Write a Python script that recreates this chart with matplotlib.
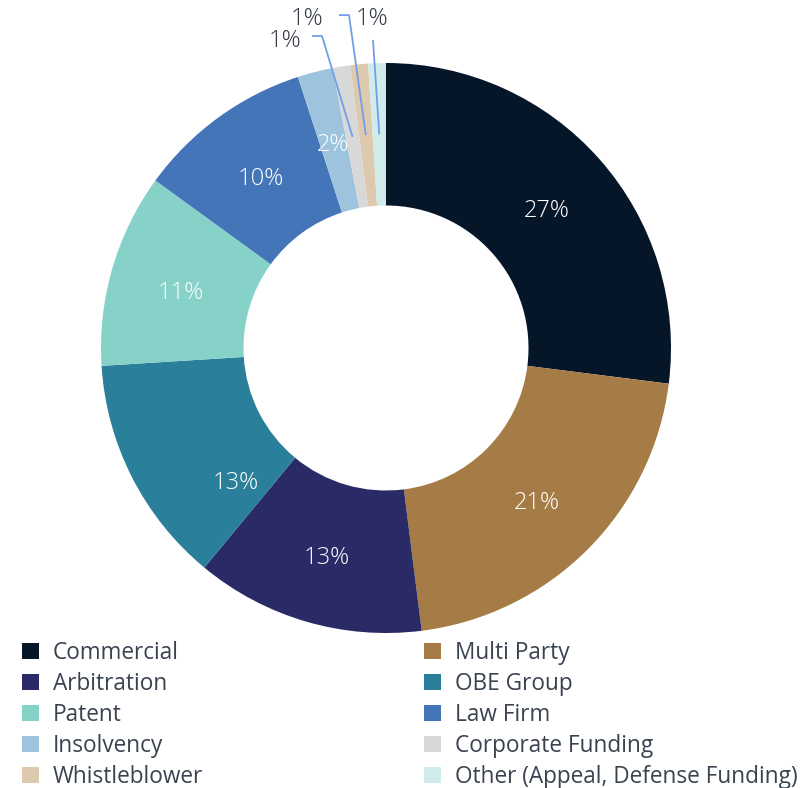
import matplotlib.pyplot as plt
from matplotlib.patches import Patch
import numpy as np

plt.rcParams['font.family'] = ['Open Sans', 'DejaVu Sans']

# data
categories = ['Commercial', 'Multi Party', 'Arbitration', 'OBE Group', 'Patent',
              'Law Firm', 'Insolvency', 'Corporate Funding', 'Whistleblower',
              'Other (Appeal, Defense Funding)']
shares = [27, 21, 13, 13, 11, 10, 2, 1, 1, 1]
colors = ['#061629', '#A57C45', '#2A2A66', '#2A7F9A', '#86D1C8',
          '#4475B8', '#9DC4DC', '#D8D8D8', '#DDC9AD', '#D0ECEA']

fig = plt.figure(figsize=(8.1, 7.88), dpi=100)
ax = fig.add_axes([0, 0, 1, 1])

wedges, _ = ax.pie(shares, colors=colors, startangle=90, counterclock=False,
                   radius=1, wedgeprops=dict(width=0.5, linewidth=0))
# pie resets the limits, so set them afterwards
ax.set_aspect('auto')
ax.set_xlim(-386 / 285, 424 / 285)
ax.set_ylim(-440 / 285, 348 / 285)
ax.axis('off')

# labels inside the ring (OBE label sits a bit lower in the original)
nudge = {3: (14, 0.70)}   # degrees, radius
mids = []
for i, (w, v) in enumerate(zip(wedges, shares)):
    ang = np.deg2rad((w.theta1 + w.theta2) / 2)
    mids.append(ang)
    if v >= 2:
        da, r = nudge.get(i, (0, 0.75))
        a = ang + np.deg2rad(da)
        ax.text(r * np.cos(a), r * np.sin(a) - 0.015, f'{v}%', color='white',
                fontsize=17, fontweight='light', ha='center', va='center')

# small slices labelled outside with leader lines
line_col = '#6F9FE8'
outside = {7: [(-0.2246, 1.0947), (-0.2596, 1.0947)],
           8: [(-0.1298, 1.168), (-0.165, 1.168)],
           9: [(-0.0456, 1.0807)]}
label_pos = {7: (-0.355, 1.078), 8: (-0.278, 1.153), 9: (-0.049, 1.153)}
for i, pts in outside.items():
    a = mids[i]
    xs = [0.75 * np.cos(a)] + [p[0] for p in pts]
    ys = [0.75 * np.sin(a)] + [p[1] for p in pts]
    ax.plot(xs, ys, color=line_col, lw=1.3, solid_capstyle='butt')
    ax.text(label_pos[i][0], label_pos[i][1], f'{shares[i]}%', color='#2E3440',
            fontsize=17, fontweight='light', ha='center', va='center')

# legend in two columns, row-wise order
handles = [Patch(facecolor=c, edgecolor='none') for c in colors]
leg_kw = dict(frameon=False, fontsize=16.3, handlelength=0.75, handleheight=0.75,
              handletextpad=0.6, labelspacing=0.31, labelcolor='#3A4350',
              borderaxespad=0, borderpad=0)
fig.legend(handles[0::2], categories[0::2], loc='upper left',
           bbox_to_anchor=(22 / 810, 1 - 641 / 788), **leg_kw)
fig.legend(handles[1::2], categories[1::2], loc='upper left',
           bbox_to_anchor=(424 / 810, 1 - 641 / 788), **leg_kw)

fig.savefig('out.png', dpi=100)
